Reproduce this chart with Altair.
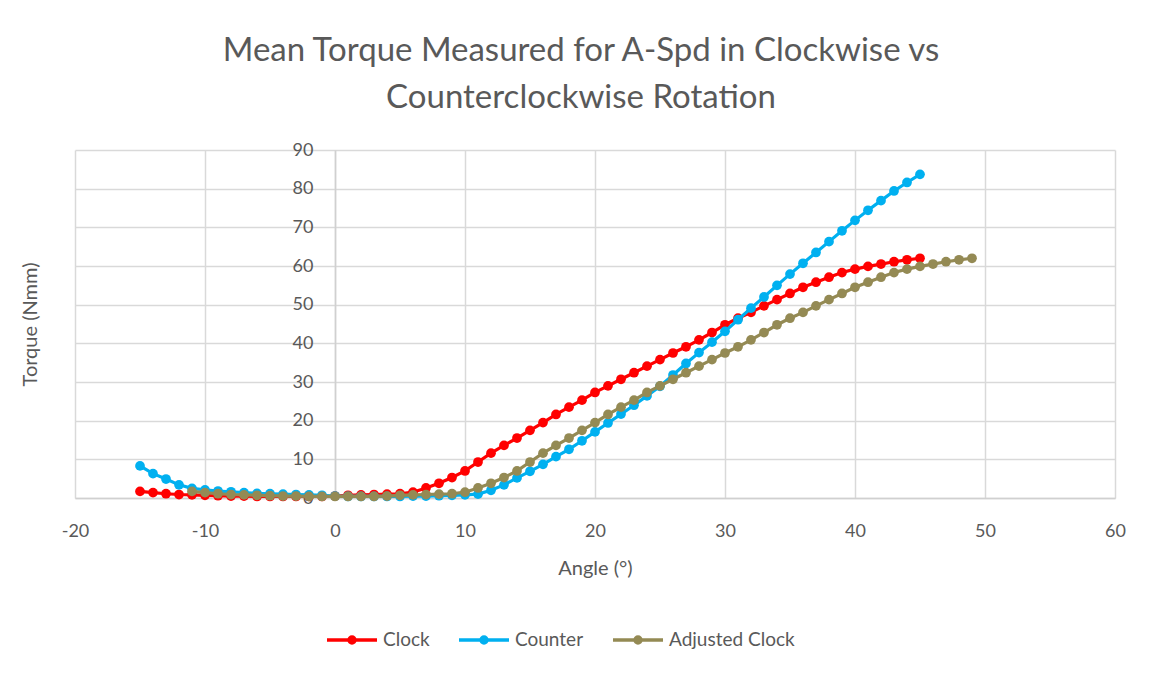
import altair as alt
import pandas as pd

series_names = ["Clock", "Counter", "Adjusted Clock"]
series_colors = ["#FF0000", "#00B0F0", "#948A54"]

clock_angle = list(range(-15, 46))
clock_torque = [1.7, 1.4, 1.1, 0.9, 0.8, 0.7, 0.6, 0.5, 0.5, 0.4,
                0.4, 0.4, 0.4, 0.4, 0.4, 0.5, 0.7, 0.8, 0.9, 1.0,
                1.1, 1.5, 2.6, 3.8, 5.3, 7.0, 9.3, 11.6, 13.6, 15.5,
                17.5, 19.5, 21.6, 23.5, 25.3, 27.3, 29.0, 30.7, 32.4, 34.1,
                35.8, 37.5, 39.1, 40.9, 42.8, 44.8, 46.5, 48.0, 49.7, 51.3,
                52.9, 54.5, 55.8, 57.1, 58.3, 59.2, 59.9, 60.5, 61.1, 61.6,
                62.0]

counter_angle = list(range(-15, 46))
counter_torque = [8.3, 6.3, 4.9, 3.4, 2.5, 2.1, 1.8, 1.6, 1.4, 1.2,
                  1.1, 1.0, 0.9, 0.8, 0.7, 0.5, 0.4, 0.4, 0.4, 0.4,
                  0.4, 0.5, 0.5, 0.6, 0.7, 0.8, 1.0, 2.0, 3.4, 5.2,
                  6.9, 8.7, 10.7, 12.6, 14.8, 17.1, 19.4, 21.7, 24.0, 26.4,
                  28.9, 31.8, 34.8, 37.6, 40.3, 43.1, 46.1, 49.1, 52.0, 55.0,
                  57.9, 60.7, 63.5, 66.3, 69.1, 71.8, 74.4, 76.9, 79.4, 81.6,
                  83.7]

adjusted_angle = list(range(-11, 50))
adjusted_torque = [1.7, 1.4, 1.1, 0.9, 0.8, 0.7, 0.6, 0.5, 0.5, 0.4,
                   0.4, 0.4, 0.4, 0.4, 0.4, 0.5, 0.7, 0.8, 0.9, 1.0,
                   1.1, 1.5, 2.6, 3.8, 5.3, 7.0, 9.3, 11.6, 13.6, 15.5,
                   17.5, 19.5, 21.6, 23.5, 25.3, 27.3, 29.0, 30.7, 32.4, 34.1,
                   35.8, 37.5, 39.1, 40.9, 42.8, 44.8, 46.5, 48.0, 49.7, 51.3,
                   52.9, 54.5, 55.8, 57.1, 58.3, 59.2, 59.9, 60.5, 61.1, 61.6,
                   62.0]

x_ticks = list(range(-20, 61, 10))
y_ticks = list(range(0, 91, 10))

rows = []
for a, t in zip(clock_angle, clock_torque):
    rows.append({"angle": a, "torque": t, "series": "Clock"})
for a, t in zip(counter_angle, counter_torque):
    rows.append({"angle": a, "torque": t, "series": "Counter"})
for a, t in zip(adjusted_angle, adjusted_torque):
    rows.append({"angle": a, "torque": t, "series": "Adjusted Clock"})
df = pd.DataFrame(rows)

FONT = "Lato"
GREY = "#595959"

x_enc = alt.X("angle:Q",
              scale=alt.Scale(domain=[-20, 60], nice=False, zero=False),
              axis=alt.Axis(values=x_ticks, title="Angle (°)", ticks=False,
                            labelPadding=24, titlePadding=18, labelFlush=False,
                            labelExpr="'' + datum.value",
                            domainColor="#d0d0d0", domainWidth=1.5))
y_enc = alt.Y("torque:Q",
              scale=alt.Scale(domain=[0, 90], nice=False),
              axis=alt.Axis(values=y_ticks, title="Torque (Nmm)", ticks=False,
                            offset=-260, labelPadding=22, labelFlush=False,
                            titleX=-305, titleY=174, titleAngle=-90,
                            titleAlign="center", titleBaseline="middle",
                            domainColor="#d0d0d0", domainWidth=1.5))
color_enc = alt.Color("series:N",
                      scale=alt.Scale(domain=series_names, range=series_colors),
                      legend=alt.Legend(
                          title=None, orient="none", direction="horizontal",
                          legendX=250, legendY=463,
                          symbolType="M-1,0H1M-0.12,0a0.12,0.12 0 1,0 0.24,0a0.12,0.12 0 1,0 -0.24,0",
                          symbolSize=2500, symbolStrokeWidth=3.5,
                          labelFontSize=19, labelFont=FONT, labelColor=GREY,
                          columnPadding=22, labelOffset=4))

layers = []
for name in series_names:
    layers.append(
        alt.Chart(df)
        .transform_filter(alt.datum.series == name)
        .mark_line(strokeWidth=3.2,
                   point=alt.OverlayMarkDef(size=95, filled=True, opacity=1))
        .encode(x=x_enc, y=y_enc, color=color_enc)
    )

chart = alt.layer(*layers).properties(
    width=1040, height=348,
    background="white",
    autosize=alt.AutoSizeParams(type="none"),
    padding={"left": 67, "top": 142, "right": 28, "bottom": 170},
    title=alt.TitleParams(
        text=["Mean Torque Measured for A-Spd in Clockwise vs",
              "Counterclockwise Rotation"],
        font=FONT, fontSize=33, fontWeight="normal", color=GREY,
        anchor="middle", offset=26, lineHeight=47, dx=-14),
).configure_view(stroke=None).configure_axis(
    gridColor="#d9d9d9", gridWidth=1.5,
    labelFont=FONT, labelFontSize=18, labelColor=GREY,
    titleFont=FONT, titleFontSize=20, titleColor=GREY, titleFontWeight="normal",
)

chart.save("out.html", embed_options={"renderer": "svg", "actions": False})
